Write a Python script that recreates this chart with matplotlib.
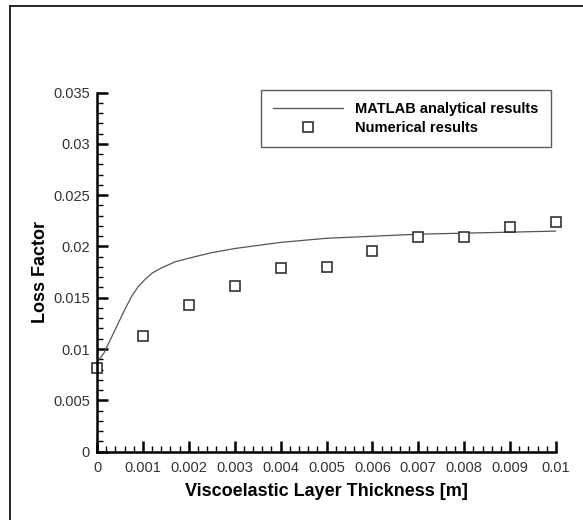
import matplotlib
matplotlib.use("Agg")
import matplotlib.pyplot as plt
from matplotlib.lines import Line2D
from matplotlib.ticker import MultipleLocator

plt.rcParams['font.family'] = ['Liberation Sans', 'DejaVu Sans']

# analytical curve (MATLAB)
thick_line = [0.0, 0.00015, 0.0003, 0.00045, 0.0006, 0.00075, 0.0009, 0.00105,
              0.0012, 0.0014, 0.0017, 0.00204, 0.0025, 0.003, 0.0035,
              0.004, 0.005, 0.006, 0.007, 0.008, 0.009, 0.01]
loss_line = [0.0087, 0.0096, 0.0110, 0.0124, 0.0138, 0.0151, 0.0161, 0.0168,
             0.0174, 0.0179, 0.0185, 0.0189, 0.0194, 0.0198, 0.0201,
             0.0204, 0.0208, 0.0210, 0.0212, 0.0213, 0.0214, 0.0215]

# numerical results
thick_num = [0.0, 0.001, 0.002, 0.003, 0.004, 0.005, 0.006, 0.007, 0.008, 0.009, 0.01]
loss_num = [0.0081, 0.0113, 0.0143, 0.0161, 0.0179, 0.0180, 0.0196, 0.0209,
            0.0209, 0.0219, 0.0224]

x_ticks = [0, 0.001, 0.002, 0.003, 0.004, 0.005, 0.006, 0.007, 0.008, 0.009, 0.01]
x_labels = ['0', '0.001', '0.002', '0.003', '0.004', '0.005', '0.006', '0.007',
            '0.008', '0.009', '0.01']
y_ticks = [0, 0.005, 0.01, 0.015, 0.02, 0.025, 0.03, 0.035]
y_labels = ['0', '0.005', '0.01', '0.015', '0.02', '0.025', '0.03', '0.035']

fig = plt.figure(figsize=(5.83, 5.2), dpi=100)
ax = fig.add_axes([0.1664, 0.1317, 0.7873, 0.69])

ax.plot(thick_line, loss_line, color='#555555', lw=0.9,
        label='MATLAB analytical results')
ax.plot(thick_num, loss_num, ls='none', marker='s', ms=7.5, mfc='white',
        mec='#222222', mew=1.1, label='Numerical results', clip_on=False)

ax.set_xlim(0, 0.01)
ax.set_ylim(0, 0.035)
ax.set_xticks(x_ticks)
ax.set_xticklabels(x_labels)
ax.set_yticks(y_ticks)
ax.set_yticklabels(y_labels)
ax.xaxis.set_minor_locator(MultipleLocator(0.0002))
ax.yaxis.set_minor_locator(MultipleLocator(0.001))

for side in ['top', 'right']:
    ax.spines[side].set_visible(False)
for side in ['left', 'bottom']:
    ax.spines[side].set_linewidth(1.8)

ax.tick_params(which='major', direction='in', length=8, width=1.8,
               labelsize=10.5, labelcolor='#333333')
ax.tick_params(which='minor', direction='in', length=4, width=1.0)
ax.tick_params(axis='y', pad=5)
ax.tick_params(axis='x', pad=7)

ax.set_xlabel('Viscoelastic Layer Thickness [m]', fontsize=13, fontweight='bold')
ax.set_ylabel('Loss Factor', fontsize=13, fontweight='bold')
ax.xaxis.set_label_coords(0.5, -0.088)
ax.yaxis.set_label_coords(-0.105, 0.5)

leg = ax.legend(loc='upper left', bbox_to_anchor=(0.357, 1.008, 0.632, 0.0),
                mode='expand', fancybox=False, edgecolor='#333333',
                prop={'weight': 'bold', 'size': 10.5}, handlelength=4.8,
                handletextpad=0.8, numpoints=1, borderpad=0.85,
                labelspacing=0.32, borderaxespad=0.0)
leg.get_frame().set_linewidth(1.0)

# outer frame remnants (top and left edges)
fig.add_artist(Line2D([9.5 / 583, 1.0], [1 - 6 / 520, 1 - 6 / 520],
                      transform=fig.transFigure, color='black', lw=1.2))
fig.add_artist(Line2D([9.5 / 583, 9.5 / 583], [0.0, 1 - 6 / 520],
                      transform=fig.transFigure, color='black', lw=1.2))

fig.savefig('out.png', dpi=100)
